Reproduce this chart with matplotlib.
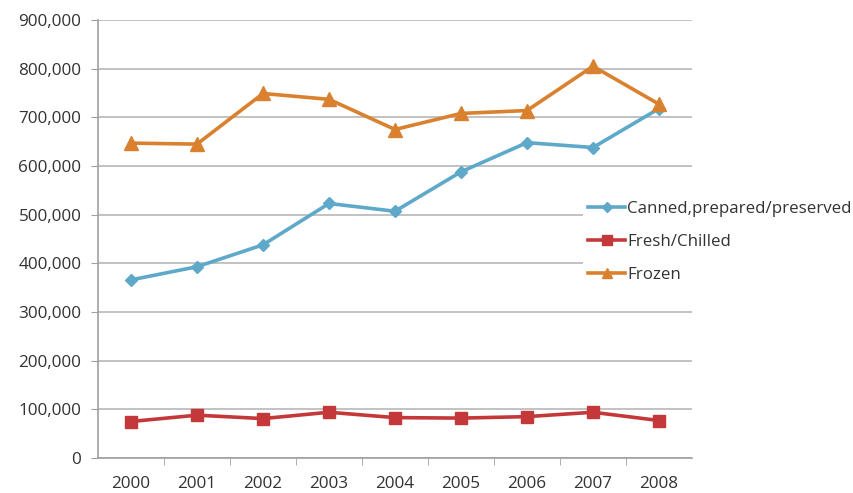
import numpy as np
import matplotlib
matplotlib.use("Agg")
import matplotlib.pyplot as plt
from matplotlib.ticker import FuncFormatter, FixedLocator

years = ["2000", "2001", "2002", "2003", "2004", "2005", "2006", "2007", "2008"]
canned = [366000, 393000, 438000, 523000, 507000, 588000, 648000, 638000, 718000]
fresh = [75000, 88000, 81000, 94000, 83000, 82000, 85000, 94000, 77000]
frozen = [647000, 645000, 749000, 737000, 675000, 708000, 714000, 805000, 727000]

plt.rcParams["font.family"] = ["Open Sans", "DejaVu Sans"]
plt.rcParams["font.size"] = 12.3

fig = plt.figure(figsize=(8.54, 4.93), dpi=100)
ax = fig.add_axes([98 / 854, 35 / 493, 594 / 854, 438 / 493])

x = np.arange(len(years))
ax.plot(x, canned, color="#5ea9c9", lw=2.6, marker="D", ms=6.5,
        label="Canned,prepared/preserved", zorder=3)
ax.plot(x, fresh, color="#c4383a", lw=2.6, marker="s", ms=9,
        label="Fresh/Chilled", zorder=3)
ax.plot(x, frozen, color="#d9812e", lw=2.6, marker="^", ms=9.5,
        label="Frozen", zorder=3)

ax.set_xlim(-0.5, len(years) - 0.5)
ax.set_ylim(0, 900000)
ax.set_yticks(np.arange(0, 900001, 100000))
ax.yaxis.set_major_formatter(FuncFormatter(lambda v, p: f"{int(v):,}"))
ax.set_xticks(x)
ax.set_xticklabels(years)
ax.xaxis.set_minor_locator(FixedLocator(np.arange(0.5, len(years) - 0.5, 1)))

ax.grid(axis="y", color="#b8b8b8", lw=1.2, zorder=0)
ax.set_axisbelow(True)
for s in ["top", "right"]:
    ax.spines[s].set_visible(False)
for s in ["left", "bottom"]:
    ax.spines[s].set_color("#a0a0a0")
    ax.spines[s].set_linewidth(1.2)

ax.tick_params(axis="y", length=5, color="#a0a0a0", labelcolor="#333333", pad=7)
ax.tick_params(axis="x", which="major", length=0, pad=13, labelcolor="#333333")
ax.tick_params(axis="x", which="minor", length=5, color="#a0a0a0")

leg = ax.legend(loc="center left", bbox_to_anchor=(583 / 854, 251 / 493),
                bbox_transform=fig.transFigure, frameon=True, fancybox=False,
                edgecolor="none", facecolor="white", framealpha=1,
                handlelength=2.2, handletextpad=0.1, labelspacing=1.0,
                borderpad=0.3, borderaxespad=0, fontsize=12.2, markerscale=0.75)
for t in leg.get_texts():
    t.set_color("#333333")

fig.savefig("out.png", dpi=100)
